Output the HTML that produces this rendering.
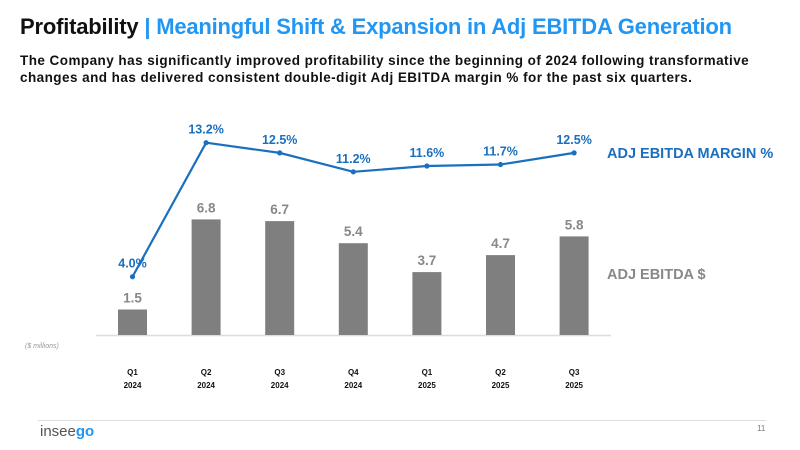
<!DOCTYPE html>
<html><head><meta charset="utf-8"><style>
body{margin:0;width:800px;height:450px;background:#fff;overflow:hidden;font-family:"Liberation Sans",sans-serif;position:relative}
.t{position:absolute;white-space:nowrap}
</style></head><body>
<div class="t" style="left:20px;top:14px;font-size:22px;font-weight:bold;letter-spacing:-0.2px"><span style="color:#111">Profitability</span> <span style="color:#2196f3">| Meaningful Shift &amp; Expansion in Adj EBITDA Generation</span></div>
<div class="t" style="left:20px;top:52px;font-size:13.5px;font-weight:bold;color:#111;line-height:17px;letter-spacing:0.45px">The Company has significantly improved profitability since the beginning of 2024 following transformative<br>changes and has delivered consistent double-digit Adj EBITDA margin % for the past six quarters.</div>
<svg id="chart" width="800" height="450" style="position:absolute;left:0;top:0"></svg>
<div class="t" style="left:607px;top:146px;font-size:14.5px;font-weight:bold;color:#1a6fbf">ADJ EBITDA MARGIN %</div>
<div class="t" style="left:607px;top:267px;font-size:14.5px;font-weight:bold;color:#888">ADJ EBITDA $</div>
<div class="t" style="left:25px;top:343px;font-size:7px;font-style:italic;color:#999">($ millions)</div>
<div style="position:absolute;left:38px;top:420px;width:728px;height:1px;background:#ddd"></div>
<div class="t" style="left:40px;top:423px;font-size:15px;color:#555">insee<span style="color:#2196f3;font-weight:bold">go</span></div>
<div class="t" style="left:757px;top:424px;font-size:8px;color:#777">11</div>
<script>
const quarters=["Q1","Q2","Q3","Q4","Q1","Q2","Q3"];
const years=["2024","2024","2024","2024","2025","2025","2025"];
const ebitda=[1.5,6.8,6.7,5.4,3.7,4.7,5.8];
const margin=[4.0,13.2,12.5,11.2,11.6,11.7,12.5];
const svg=document.getElementById('chart');
const NS='http://www.w3.org/2000/svg';
const base=335;
const xPos=i=>132.5+i*73.6;
const yBar=v=>base-v*17;
const yLine=v=>base-v*14.57;
function mk(tag,attrs,txt){const e=document.createElementNS(NS,tag);for(const k in attrs)e.setAttribute(k,attrs[k]);if(txt!=null)e.textContent=txt;svg.appendChild(e);return e;}
const ax=mk('line',{x1:96,x2:611,y1:base+0.5,y2:base+0.5,stroke:'#ddd','stroke-width':1.5});


ebitda.forEach((v,i)=>{
 const r=mk('rect',{x:xPos(i)-14.5,y:yBar(v),width:29,height:base-yBar(v),fill:'#7f7f7f'});
 
 
 const t=mk('text',{x:xPos(i),y:yBar(v)-7,'text-anchor':'middle','font-size':13.5,'font-weight':'bold',fill:'#888'},v.toFixed(1));
 
 
 const q=mk('text',{x:xPos(i),y:375,'text-anchor':'middle','font-size':8,'font-weight':'bold',fill:'#111'},quarters[i]);
 
 
 const y=mk('text',{x:xPos(i),y:388,'text-anchor':'middle','font-size':8,'font-weight':'bold',fill:'#111'},years[i]);
 
 
});
const pts=margin.map((v,i)=>xPos(i)+','+yLine(v)).join(' ');
const pl=mk('polyline',{points:pts,fill:'none',stroke:'#1a6fbf','stroke-width':2.2});


margin.forEach((v,i)=>{
 const c=mk('circle',{cx:xPos(i),cy:yLine(v),r:2.6,fill:'#1a6fbf'});
 
 
 const t=mk('text',{x:xPos(i),y:yLine(v)-9,'text-anchor':'middle','font-size':12.5,'font-weight':'bold',fill:'#1a6fbf'},v.toFixed(1)+'%');
 
 
});
</script>
</body></html>
